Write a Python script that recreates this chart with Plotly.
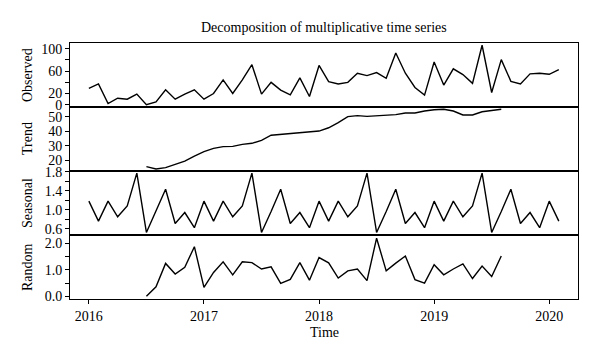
import plotly.graph_objects as go
from plotly.subplots import make_subplots

# ---- data (monthly, Jan 2016 .. Feb 2020) ----
start_year = 2016
n_months = 50
time = [start_year + i / 12 for i in range(n_months)]

observed = [28.9, 36.9, 1.8, 11.5, 9.7, 18.8, 0.0, 4.9, 26.6, 9.7,
            18.8, 26.6, 9.7, 19.9, 44.1, 19.9, 44.1, 71.2, 18.8, 39.8,
            26.0, 17.5, 47.7, 14.5, 70.0, 41.0, 36.9, 39.8, 56.0, 51.9,
            57.3, 47.0, 92.2, 56.0, 30.7, 17.0, 76.0, 35.0, 64.0, 53.7,
            38.0, 106.0, 21.7, 80.3, 41.6, 36.9, 55.0, 56.0, 54.2, 62.7]

trend = [None, None, None, None, None, None,
         15.4, 13.8, 14.7, 17.0, 19.3, 22.8, 25.8, 28.1, 29.3, 29.5,
         30.9, 31.6, 33.7, 37.2, 37.8, 38.3, 39.0, 39.4, 40.1, 42.4,
         45.9, 50.1, 50.8, 50.3, 50.6, 50.8, 51.5, 52.6, 52.6, 54.0,
         54.9, 55.2, 54.0, 51.3, 51.3, 53.5, 54.5, 55.2,
         None, None, None, None, None, None]

seasonal = [1.18, 0.76, 1.18, 0.85, 1.08, 1.77, 0.52, 0.96, 1.43, 0.71, 0.94, 0.62,
            1.18, 0.76, 1.18, 0.85, 1.08, 1.77, 0.52, 0.96, 1.43, 0.71, 0.94, 0.62,
            1.18, 0.76, 1.18, 0.85, 1.08, 1.77, 0.52, 0.96, 1.43, 0.71, 0.94, 0.62,
            1.18, 0.76, 1.18, 0.85, 1.08, 1.77, 0.52, 0.96, 1.43, 0.71, 0.94, 0.62,
            1.18, 0.76]

random_c = [None, None, None, None, None, None,
            0.00, 0.36, 1.24, 0.84, 1.09, 1.87, 0.34, 0.90, 1.30, 0.81,
            1.30, 1.27, 1.03, 1.11, 0.49, 0.64, 1.27, 0.61, 1.46, 1.26,
            0.69, 0.96, 1.03, 0.59, 2.19, 0.96, 1.25, 1.52, 0.63, 0.50,
            1.19, 0.81, 1.03, 1.22, 0.67, 1.14, 0.75, 1.52,
            None, None, None, None, None, None]

panel_names = ["Observed", "Trend", "Seasonal", "Random"]
series = [observed, trend, seasonal, random_c]

y_tickvals = [[0, 20, 40, 60, 80, 100],
              [20, 30, 40, 50],
              [0.6, 0.8, 1.0, 1.2, 1.4, 1.6, 1.8],
              [0.0, 0.5, 1.0, 1.5, 2.0]]
y_ticktext = [["0", "20", "", "60", "", "100"],
              ["20", "30", "40", "50"],
              ["0.6", "", "1.0", "", "1.4", "", "1.8"],
              ["0.0", "", "1.0", "", "2.0"]]
y_ranges = [[-4.2, 110.0], [12.4, 56.8], [0.467, 1.815], [-0.10, 2.31]]

x_tickvals = [2016, 2017, 2018, 2019, 2020]
x_range = [2015.836, 2020.25]

FONT = "Liberation Serif"

fig = make_subplots(rows=4, cols=1, shared_xaxes=True, vertical_spacing=0)

for i, (name, s) in enumerate(zip(panel_names, series)):
    fig.add_trace(go.Scatter(x=time, y=s, mode="lines",
                             line=dict(color="black", width=1.4),
                             connectgaps=False, showlegend=False, name=name),
                  row=i + 1, col=1)
    fig.update_yaxes(row=i + 1, col=1, range=y_ranges[i], automargin=False,
                     tickmode="array", tickvals=y_tickvals[i], ticktext=y_ticktext[i],
                     ticks="outside", ticklen=4, tickwidth=1, tickcolor="black",
                     showline=True, mirror=True, linecolor="black", linewidth=1,
                     showgrid=False, zeroline=False,
                     tickfont=dict(family=FONT, size=14, color="black"))

for r in range(1, 5):
    fig.update_xaxes(row=r, col=1, range=x_range, automargin=False,
                     tickmode="array", tickvals=x_tickvals,
                     ticks="outside" if r == 4 else "", ticklen=4, tickwidth=1,
                     tickcolor="black",
                     showticklabels=(r == 4),
                     showline=True, mirror=True, linecolor="black", linewidth=1,
                     showgrid=False, zeroline=False,
                     tickfont=dict(family=FONT, size=14, color="black"))

L, R, T, B = 70, 22, 43, 59
W, H = 600, 358
plot_w = W - L - R
plot_h = H - T - B

annotations = []
# y-axis titles
for i, name in enumerate(panel_names):
    yc = 1 - (i + 0.5) / 4
    annotations.append(dict(text=name, xref="paper", yref="paper",
                            x=(27 - L) / plot_w, y=yc, xanchor="center", yanchor="middle",
                            textangle=-90, showarrow=False,
                            font=dict(family=FONT, size=14, color="black")))
# x-axis title
annotations.append(dict(text="Time", xref="paper", yref="paper",
                        x=0.5, y=-(332 - (H - B)) / plot_h,
                        xanchor="center", yanchor="middle", showarrow=False,
                        font=dict(family=FONT, size=14, color="black")))
# main title
annotations.append(dict(text="Decomposition of multiplicative time series",
                        xref="paper", yref="paper",
                        x=0.5, y=1 + (T - 27) / plot_h,
                        xanchor="center", yanchor="middle", showarrow=False,
                        font=dict(family=FONT, size=14, color="black")))

fig.update_layout(width=W, height=H,
                  margin=dict(l=L, r=R, t=T, b=B),
                  paper_bgcolor="white", plot_bgcolor="white",
                  annotations=annotations,
                  font=dict(family=FONT, size=14, color="black"))

fig.write_html("out.html", config={"displayModeBar": False},
               post_script="document.body.style.margin='0';document.body.style.padding='0';")
